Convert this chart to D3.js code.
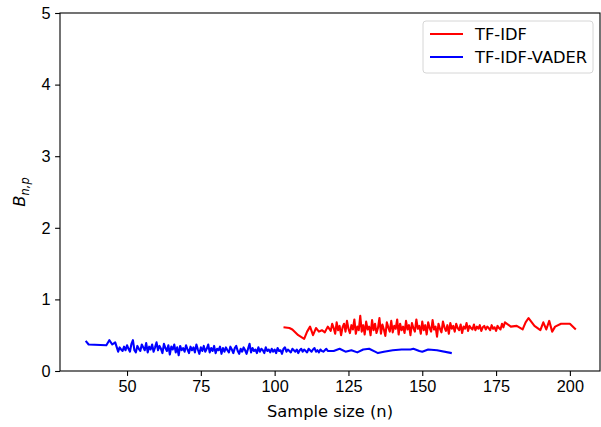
<!DOCTYPE html>
<meta charset="utf-8">
<style>
    body { margin: 0; background: #fff; }
    svg { font-family: "DejaVu Sans", sans-serif; }
    .axis text { font-size: 16.3px; fill: #000; }
    .axis path, .axis line { stroke: #000; stroke-width: 1.1px; }
</style>
<svg width="601" height="427"></svg>
<script src="https://d3js.org/d3.v7.min.js"></script>
<script>

    // TF-IDF series (red): sparse start, dense middle (half steps), sparse end
    var nTfidfStart = [103, 105, 106, 108, 110, 111, 112, 113, 114, 115, 116, 117, 118];
    var bTfidfStart = [0.61, 0.60, 0.58, 0.50, 0.45, 0.55, 0.62, 0.50, 0.60, 0.55, 0.57, 0.54, 0.62];
    var bTfidfDense = [ // n = 119 .. 178, step 0.5
        0.56, 0.66, 0.60, 0.52, 0.68, 0.57, 0.63, 0.50, 0.61, 0.66, 0.55, 0.70, 0.59, 0.53, 0.64, 0.58, 0.72, 0.52, 0.62, 0.57, 0.77,
        0.55, 0.64, 0.51, 0.69, 0.58, 0.62, 0.50, 0.71, 0.57, 0.66, 0.53, 0.60, 0.74, 0.52, 0.65, 0.58, 0.49, 0.68, 0.61, 0.55, 0.70,
        0.54, 0.63, 0.59, 0.72, 0.51, 0.66, 0.57, 0.62, 0.53, 0.70, 0.58, 0.64, 0.50, 0.67, 0.60, 0.55, 0.72, 0.59, 0.63, 0.52, 0.69,
        0.57, 0.64, 0.51, 0.68, 0.60, 0.55, 0.71, 0.58, 0.62, 0.48, 0.66, 0.59, 0.54, 0.69, 0.61, 0.56, 0.64, 0.52, 0.67, 0.59, 0.63,
        0.55, 0.66, 0.60, 0.57, 0.65, 0.53, 0.62, 0.59, 0.67, 0.56, 0.63, 0.60, 0.58, 0.65, 0.57, 0.62, 0.59, 0.64, 0.56, 0.61, 0.63,
        0.58, 0.62, 0.60, 0.57, 0.64, 0.59, 0.61, 0.56, 0.63, 0.60, 0.58, 0.66, 0.61, 0.68];
    var nTfidfEnd = [180, 182, 184, 185, 186, 188, 190, 191, 192, 193, 194, 195, 197, 200, 202];
    var bTfidfEnd = [0.62, 0.63, 0.58, 0.68, 0.74, 0.63, 0.57, 0.68, 0.58, 0.70, 0.55, 0.62, 0.66, 0.66, 0.58];

    // TF-IDF-VADER series (blue)
    var nVaderStart = [36, 37, 43, 44, 45, 46];
    var bVaderStart = [0.42, 0.37, 0.36, 0.43, 0.37, 0.40];
    var bVaderDense = [ // n = 47 .. 118, step 0.5
        0.27, 0.33, 0.30, 0.28, 0.34, 0.29, 0.36, 0.31, 0.27, 0.38, 0.43, 0.29, 0.26, 0.35, 0.31, 0.28, 0.37, 0.33, 0.29, 0.39, 0.26,
        0.34, 0.30, 0.37, 0.27, 0.33, 0.40, 0.29, 0.35, 0.31, 0.25, 0.38, 0.32, 0.28, 0.36, 0.23, 0.34, 0.30, 0.37, 0.26, 0.33, 0.22,
        0.35, 0.29, 0.32, 0.27, 0.36, 0.30, 0.25, 0.34, 0.29, 0.33, 0.26, 0.37, 0.30, 0.24, 0.33, 0.28, 0.35, 0.27, 0.31, 0.37, 0.26,
        0.32, 0.28, 0.35, 0.25, 0.31, 0.29, 0.34, 0.24, 0.32, 0.27, 0.33, 0.29, 0.26, 0.34, 0.30, 0.25, 0.32, 0.35, 0.28, 0.24, 0.31,
        0.27, 0.33, 0.29, 0.24, 0.31, 0.38, 0.26, 0.32, 0.28, 0.30, 0.25, 0.33, 0.27, 0.31, 0.29, 0.25, 0.33, 0.28, 0.30, 0.26, 0.31,
        0.27, 0.30, 0.25, 0.32, 0.28, 0.29, 0.24, 0.31, 0.33, 0.27, 0.30, 0.28, 0.26, 0.31, 0.29, 0.27, 0.30, 0.25, 0.29, 0.31, 0.27,
        0.30, 0.28, 0.26, 0.31, 0.29, 0.27, 0.30, 0.32, 0.27, 0.29, 0.26, 0.30, 0.28, 0.27, 0.29, 0.31, 0.28];
    var nVaderEnd = [120, 122, 124, 126, 128, 130, 132, 134, 135, 137, 140, 143, 146, 147, 149, 150, 152, 155, 160];
    var bVaderEnd = [0.28, 0.31, 0.27, 0.29, 0.26, 0.30, 0.31, 0.27, 0.25, 0.27, 0.29, 0.30, 0.30, 0.31, 0.28, 0.27, 0.30, 0.29, 0.25];

    var xTicks = [50, 75, 100, 125, 150, 175, 200];
    var yTicks = [0, 1, 2, 3, 4, 5];
    var seriesNames = ["TF-IDF", "TF-IDF-VADER"];
    var seriesColors = ["#ff0000", "#0000ff"];

    function halfSteps(start, vals) {
        return vals.map(function(v, i) { return [start + i * 0.5, v]; });
    }

    var series = [
        d3.zip(nTfidfStart, bTfidfStart).concat(halfSteps(119, bTfidfDense), d3.zip(nTfidfEnd, bTfidfEnd)),
        d3.zip(nVaderStart, bVaderStart).concat(halfSteps(47, bVaderDense), d3.zip(nVaderEnd, bVaderEnd))
    ];

    var svg = d3.select("svg"),
        margin = {top: 13, right: 1, bottom: 56, left: 60},
        width = 601 - margin.left - margin.right,
        height = 427 - margin.top - margin.bottom;

    var g = svg.append("g").attr("transform", "translate(" + margin.left + "," + margin.top + ")");

    var x = d3.scaleLinear().domain([27.3, 210.2]).range([0, width]);
    var y = d3.scaleLinear().domain([0, 5]).range([height, 0]);

    var line = d3.line()
        .x(function(d) { return x(d[0]); })
        .y(function(d) { return y(d[1]); });

    g.append("defs").append("clipPath").attr("id", "clip")
        .append("rect").attr("width", width).attr("height", height);

    g.append("g").attr("clip-path", "url(#clip)")
        .selectAll("path")
        .data(series)
        .enter().append("path")
        .attr("fill", "none")
        .attr("stroke", function(d, i) { return seriesColors[i]; })
        .attr("stroke-width", 2.1)
        .attr("stroke-linejoin", "round")
        .attr("d", line);

    // frame
    g.append("rect")
        .attr("width", width).attr("height", height)
        .attr("fill", "none").attr("stroke", "#000").attr("stroke-width", 1.1);

    g.append("g").attr("class", "axis")
        .attr("transform", "translate(0," + height + ")")
        .call(d3.axisBottom(x).tickValues(xTicks).tickSize(4.9).tickPadding(4.5).tickFormat(d3.format("d")))
        .call(function(a) { a.select(".domain").remove(); });

    g.append("g").attr("class", "axis")
        .call(d3.axisLeft(y).tickValues(yTicks).tickSize(4.9).tickPadding(4.5).tickFormat(d3.format("d")))
        .call(function(a) { a.select(".domain").remove(); });

    // axis labels
    svg.append("text")
        .attr("x", margin.left + width / 2).attr("y", 417)
        .attr("text-anchor", "middle").style("font-size", "16.3px")
        .text("Sample size (n)");

    var yl = svg.append("text")
        .attr("transform", "translate(25," + (margin.top + height / 2) + ") rotate(-90)")
        .attr("text-anchor", "middle").style("font-size", "16.3px");
    yl.append("tspan").style("font-style", "italic").text("B");
    yl.append("tspan").attr("dy", 4).style("font-size", "11.4px").style("font-style", "italic").text("n,p");

    // legend
    var lg = svg.append("g").attr("transform", "translate(423,21)");
    lg.append("rect")
        .attr("width", 170).attr("height", 52).attr("rx", 3)
        .attr("fill", "#fff").attr("fill-opacity", 0.8)
        .attr("stroke", "#d6d6d6").attr("stroke-width", 1);

    var items = lg.selectAll(".item").data(seriesNames).enter().append("g")
        .attr("transform", function(d, i) { return "translate(0," + (13 + i * 23) + ")"; });
    items.append("line")
        .attr("x1", 7).attr("x2", 40)
        .attr("stroke", function(d, i) { return seriesColors[i]; })
        .attr("stroke-width", 2.1);
    items.append("text")
        .attr("x", 52).attr("dy", "0.35em")
        .style("font-size", "16.3px")
        .text(function(d) { return d; });

</script>
